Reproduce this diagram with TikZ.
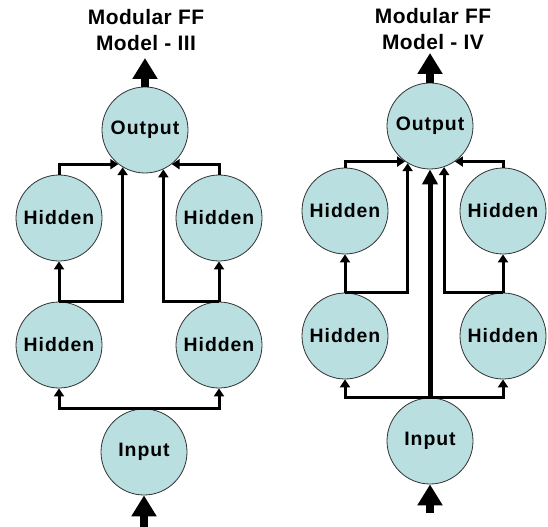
\documentclass[tikz,border=0pt]{standalone}
\usepackage{fontspec}
\setmainfont{Liberation Sans}
\newfontfamily\nfont[LetterSpace=5]{Liberation Sans}
\newfontfamily\tfont[LetterSpace=2]{Liberation Sans}
\usetikzlibrary{arrows.meta}
\definecolor{bleu}{HTML}{B9DFE1}

\begin{document}
\begin{tikzpicture}[x=1bp, y=-1bp,
  neur/.style={circle, draw=black!80, line width=0.8bp, fill=bleu, minimum size=86bp, inner sep=0pt, font=\nfont\fontsize{19.5}{22}\selectfont\bfseries},
  conn/.style={line width=3bp, -{Triangle[width=10bp,length=8bp]}},
  big/.style={line width=8bp, -{Triangle[width=24bp,length=21bp]}},
  mid/.style={line width=5bp, -{Triangle[width=15bp,length=15bp]}},
  titre/.style={align=center, font=\tfont\fontsize{21}{27}\selectfont\bfseries}]
\useasboundingbox (0,0) rectangle (548,527);
% model III
\node[titre] (titreA) at (146,30) {Modular FF\\Model - III};
\node[neur] (outA) at (145,130) {Output};
\node[neur] (hA1) at (59,218) {Hidden};
\node[neur] (hA2) at (219,218) {Hidden};
\node[neur] (hA3) at (59,345) {Hidden};
\node[neur] (hA4) at (219,345) {Hidden};
\node[neur] (inA) at (144,452) {Input};
\coordinate (topA) at (145,58);
\coordinate (botA) at (144,527);
\draw[big] (outA.north) -- (topA);
\draw[big] (botA) -- (inA.south);
\draw[conn] (inA.north) -| (hA3.south);
\draw[conn] (inA.north) -| (hA4.south);
\draw[conn] (hA3.north) -- (hA1.south);
\draw[conn] (hA4.north) -- (hA2.south);
\draw[conn] (hA3.north) -| (outA.239);
\draw[conn] (hA4.north) -| (outA.295);
\draw[conn] (hA1.north) |- (outA.232);
\draw[conn] (hA2.north) |- (outA.308);
% model IV
\node[titre] (titreB) at (433,29) {Modular FF\\Model - IV};
\node[neur] (outB) at (430,126) {Output};
\node[neur] (hB1) at (345,211) {Hidden};
\node[neur] (hB2) at (503,211) {Hidden};
\node[neur] (hB3) at (345,336) {Hidden};
\node[neur] (hB4) at (503,336) {Hidden};
\node[neur] (inB) at (430,441) {Input};
\coordinate (topB) at (430,53);
\coordinate (botB) at (430,513);
\draw[big] (outB.north) -- (topB);
\draw[big] (botB) -- (inB.south);
\draw[conn] (inB.north) -| (hB3.south);
\draw[conn] (inB.north) -| (hB4.south);
\draw[conn] (hB3.north) -- (hB1.south);
\draw[conn] (hB4.north) -- (hB2.south);
\draw[conn] (hB3.north) -| (outB.239);
\draw[conn] (hB4.north) -| (outB.289);
\draw[conn] (hB1.north) |- (outB.235);
\draw[conn] (hB2.north) |- (outB.305);
\draw[mid] (inB.north) -- (outB.south);
\end{tikzpicture}
\end{document}
